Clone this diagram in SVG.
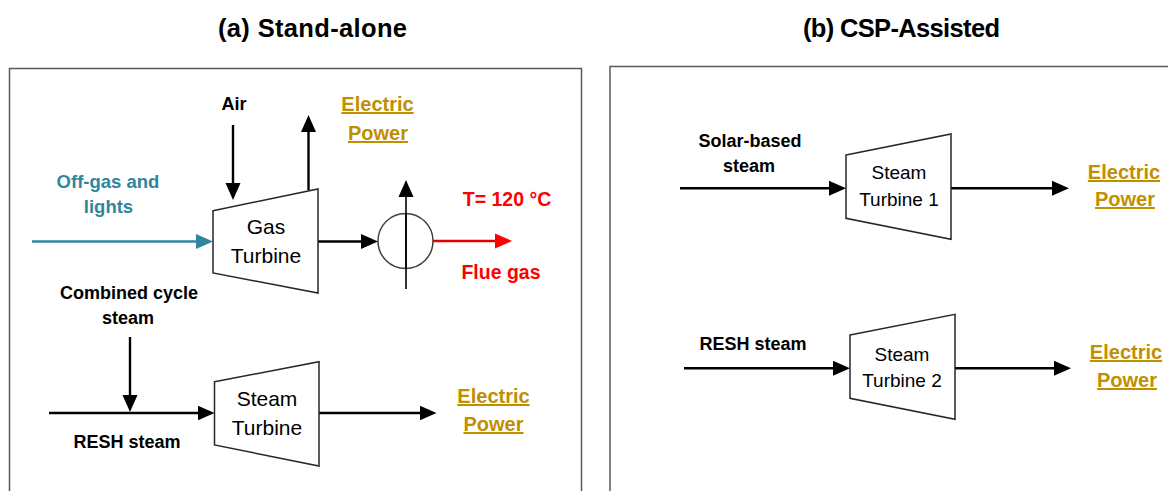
<svg xmlns="http://www.w3.org/2000/svg" width="1168" height="491" viewBox="0 0 1168 491">
<style>
text{font-family:"Liberation Sans",Arial,sans-serif;text-anchor:middle}
.title{font-size:25.5px;font-weight:bold;fill:#000}
.lbl{font-size:18px;font-weight:bold;fill:#000}
.teal{font-size:18.5px;font-weight:bold;fill:#31859C}
.red{font-size:19.5px;font-weight:bold;fill:#FF0000}
.pwr{font-size:20px;font-weight:bold;fill:#BF8F00;text-decoration:underline}
.tur{font-size:21px;fill:#000}
.tur2{font-size:19px;fill:#000}
.box{fill:none;stroke:#595959;stroke-width:1.5}
.trap{fill:#fff;stroke:#262626;stroke-width:1.5;stroke-linejoin:miter}
.ln{fill:none;stroke:#000;stroke-width:2.4}
.lnt{fill:none;stroke:#31859C;stroke-width:2.4}
.lnr{fill:none;stroke:#E00000;stroke-width:2.4}
.thin{fill:none;stroke:#000;stroke-width:1.6}
</style>
<defs>
<marker id="ah" markerUnits="userSpaceOnUse" markerWidth="17" markerHeight="17" viewBox="0 0 17 17" refX="1" refY="8.5" orient="auto"><path d="M0,1 L17,8.5 L0,16 z" fill="#000"/></marker>
<marker id="aht" markerUnits="userSpaceOnUse" markerWidth="17" markerHeight="17" viewBox="0 0 17 17" refX="1" refY="8.5" orient="auto"><path d="M0,1 L17,8.5 L0,16 z" fill="#31859C"/></marker>
<marker id="ahr" markerUnits="userSpaceOnUse" markerWidth="17" markerHeight="17" viewBox="0 0 17 17" refX="1" refY="8.5" orient="auto"><path d="M0,1 L17,8.5 L0,16 z" fill="#FF0000"/></marker>
</defs>
<rect width="1168" height="491" fill="#fff"/>

<g id="titles">
<text class="title" x="312.5" y="36.5" textLength="189">(a) Stand-alone</text>
<text class="title" x="901.5" y="36.5" textLength="197">(b) CSP-Assisted</text>
</g>

<g id="panels">
<rect class="box" x="9.5" y="68.5" width="572" height="440"/>
<rect class="box" x="610" y="66.5" width="580" height="440"/>
</g>

<g id="connectors">
<line class="lnt" x1="32" y1="241.5" x2="197" y2="241.5" marker-end="url(#aht)"/>
<line class="ln" x1="233" y1="125" x2="233" y2="184" marker-end="url(#ah)"/>
<line class="ln" x1="308.5" y1="190" x2="308.5" y2="131" marker-end="url(#ah)"/>
<line class="ln" x1="318" y1="241.5" x2="362" y2="241.5" marker-end="url(#ah)"/>
<line class="thin" x1="406" y1="289" x2="406" y2="196" marker-end="url(#ah)"/>
<line class="lnr" x1="433" y1="241" x2="496" y2="241" marker-end="url(#ahr)"/>
<line class="ln" x1="130" y1="337" x2="130" y2="396" marker-end="url(#ah)"/>
<line class="ln" x1="49" y1="413" x2="198.5" y2="413" marker-end="url(#ah)"/>
<line class="ln" x1="319" y1="413" x2="420.5" y2="413" marker-end="url(#ah)"/>
<line class="ln" x1="680" y1="188.3" x2="830" y2="188.3" marker-end="url(#ah)"/>
<line class="ln" x1="951" y1="188.3" x2="1053" y2="188.3" marker-end="url(#ah)"/>
<line class="ln" x1="684" y1="368.3" x2="834" y2="368.3" marker-end="url(#ah)"/>
<line class="ln" x1="955" y1="368.3" x2="1055" y2="368.3" marker-end="url(#ah)"/>
</g>

<g id="gas-turbine">
<polygon class="trap" points="213,210.7 318,189 318,293 213,273"/>
<text class="tur" x="266" y="234">Gas</text>
<text class="tur" x="266" y="263">Turbine</text>
</g>

<g id="heat-exchanger">
<circle cx="405.5" cy="241" r="27.5" fill="none" stroke="#404040" stroke-width="1.5"/>
<line class="thin" x1="406" y1="213" x2="406" y2="269"/>
</g>

<g id="steam-turbine">
<polygon class="trap" points="214.5,381.7 319,361.7 319,466 214.5,445"/>
<text class="tur" x="267" y="406">Steam</text>
<text class="tur" x="267" y="435">Turbine</text>
</g>

<g id="steam-turbine-1">
<polygon class="trap" points="846,155 951,134 951,239.3 846,218.3"/>
<text class="tur2" x="899" y="179">Steam</text>
<text class="tur2" x="899" y="206">Turbine 1</text>
</g>

<g id="steam-turbine-2">
<polygon class="trap" points="850,335 955,314.3 955,419.3 850,398.3"/>
<text class="tur2" x="902" y="360.5">Steam</text>
<text class="tur2" x="902" y="387">Turbine 2</text>
</g>

<g id="labels">
<text class="lbl" x="234" y="110">Air</text>
<text class="pwr" x="377.5" y="111">Electric</text>
<text class="pwr" x="378" y="140">Power</text>
<text class="teal" x="108" y="188">Off-gas and</text>
<text class="teal" x="108.5" y="213">lights</text>
<text class="red" x="507" y="206">T= 120 °C</text>
<text class="red" x="501" y="279">Flue gas</text>
<text class="lbl" x="129" y="299">Combined cycle</text>
<text class="lbl" x="128" y="324">steam</text>
<text class="lbl" x="127" y="448">RESH steam</text>
<text class="pwr" x="493.5" y="403">Electric</text>
<text class="pwr" x="493.5" y="431">Power</text>
<text class="lbl" x="750" y="147">Solar-based</text>
<text class="lbl" x="749" y="171.5">steam</text>
<text class="pwr" x="1124" y="179">Electric</text>
<text class="pwr" x="1125" y="206">Power</text>
<text class="lbl" x="753" y="350">RESH steam</text>
<text class="pwr" x="1126" y="359">Electric</text>
<text class="pwr" x="1127" y="387">Power</text>
</g>
</svg>
